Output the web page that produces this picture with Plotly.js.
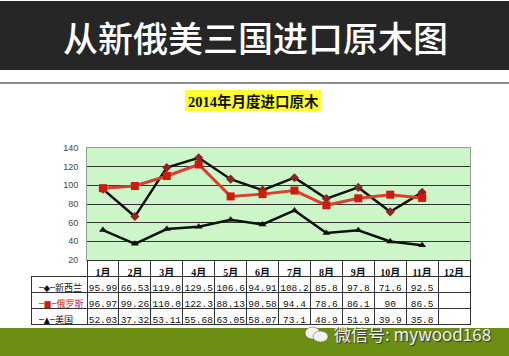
<!DOCTYPE html>
<html>
<head>
<meta charset="utf-8">
<script src="https://cdn.plot.ly/plotly-3.0.1.min.js"></script>
<style>html,body{margin:0;padding:0;background:#fff;}#chart{width:509px;height:356px;}</style>
</head>
<body>
<div id="chart"></div>
<script>
// ---- data ----
const months = ["1月","2月","3月","4月","5月","6月","7月","8月","9月","10月","11月","12月"];
const seriesNames = ["新西兰","俄罗斯","美国"];
const legendSymbols = ["─◆─","─■─","─▲─"];
const nzText = ["95.99","66.53","119.0","129.5","106.6","94.91","108.2","85.8","97.8","71.6","92.5"];
const ruText = ["96.97","99.26","110.0","122.3","88.13","90.58","94.4","78.6","86.1","90","86.5"];
const usText = ["52.03","37.32","53.11","55.68","63.05","58.07","73.1","48.9","51.9","39.9","35.8"];
const yTicks = [20,40,60,80,100,120,140];

const nz = nzText.map(Number), ru = ruText.map(Number), us = usText.map(Number);
const W = 509, H = 356;
const px = v => v / W, py = v => 1 - v / H;

const plotL = 87, plotR = 470, plotT = 148, plotB = 260, tableB = 328, tableL = 31;

const lineTraces = [
  {name: seriesNames[0], x: months.slice(0, nz.length), y: nz, type: "scatter", mode: "lines+markers",
   line: {color: "#111", width: 2.5}, marker: {symbol: "diamond", size: 7, color: "#8b2323"}},
  {name: seriesNames[1], x: months.slice(0, ru.length), y: ru, type: "scatter", mode: "lines+markers",
   line: {color: "#d8402f", width: 3}, marker: {symbol: "square", size: 8, color: "#d01a10"}},
  {name: seriesNames[2], x: months.slice(0, us.length), y: us, type: "scatter", mode: "lines+markers",
   line: {color: "#111", width: 2.5}, marker: {symbol: "triangle-up", size: 7, color: "#111"}}
];

const legendLabels = seriesNames.map((n, i) => legendSymbols[i] + n);
const cellCols = [legendLabels];
months.forEach((m, i) => cellCols.push([nzText[i] || "", ruText[i] || "", usText[i] || ""]));

const colFonts = ["DejaVu Sans Condensed, Noto Sans CJK SC"].concat(months.map(() => "Liberation Mono"));
const colSizes = [9].concat(months.map(() => 9.5));
const colColors = [["#111", "#c81e14", "#111"]].concat(months.map(() => "#111"));
const colAlign = ["left"].concat(months.map(() => "center"));
const headerLine = ["rgba(0,0,0,0)"].concat(months.map(() => "#333"));
const headerFill = ["rgba(0,0,0,0)"].concat(months.map(() => "#fff"));
const firstW = plotL - tableL;

const table = {
  type: "table",
  domain: {x: [px(tableL), px(plotR)], y: [py(tableB), py(plotB)]},
  columnwidth: [firstW].concat(months.map(() => (plotR - plotL) / months.length)),
  header: {
    values: [""].concat(months),
    height: 16,
    align: "center",
    fill: {color: headerFill},
    line: {color: headerLine, width: 1},
    font: {family: "Liberation Serif, Noto Sans CJK SC", size: 10, color: "#111", weight: "bold"}
  },
  cells: {
    values: cellCols,
    height: 16,
    align: colAlign,
    fill: {color: "#fff"},
    line: {color: "#333", width: 1},
    font: {family: colFonts, size: colSizes, color: colColors}
  }
};

const layout = {
  width: W, height: H,
  margin: {l: 0, r: 0, t: 0, b: 0},
  paper_bgcolor: "#fff",
  plot_bgcolor: "#ccf5c8",
  showlegend: false,
  xaxis: {domain: [px(plotL), px(plotR)], type: "category", categoryarray: months, range: [-0.5, 11.5],
          showticklabels: false, showgrid: false, zeroline: false, showline: true, mirror: true,
          linecolor: "#999", linewidth: 1, fixedrange: true},
  yaxis: {domain: [py(plotB), py(plotT)], range: [20, 140], tickvals: yTicks, showgrid: true,
          gridcolor: "#333", gridwidth: 1, zeroline: false, showline: true, mirror: true,
          linecolor: "#999", linewidth: 1, ticks: "", ticklabelstandoff: 6,
          tickfont: {family: "Liberation Sans", size: 9, color: "#444"}, fixedrange: true},
  shapes: [
    {type: "rect", xref: "paper", yref: "paper", x0: 0, x1: 1, y0: py(70), y1: py(1), fillcolor: "#262626", line: {width: 0}, layer: "below"},
    {type: "line", xref: "paper", yref: "paper", x0: 0, x1: 1, y0: py(83), y1: py(83), line: {color: "#666", width: 1.5}},
    {type: "rect", xref: "paper", yref: "paper", x0: px(185), x1: px(321), y0: py(111), y1: py(90), fillcolor: "#ffff33", line: {width: 0}, layer: "below"},
    {type: "rect", xref: "paper", yref: "paper", x0: 0, x1: 1, y0: 0, y1: py(tableB), fillcolor: "#6c8e12", line: {width: 0}},
    {type: "circle", xref: "paper", yref: "paper", x0: px(305), x1: px(320), y0: py(339), y1: py(327), fillcolor: "#f2f2f2", line: {color: "#555", width: 0.5}},
    {type: "circle", xref: "paper", yref: "paper", x0: px(313), x1: px(328), y0: py(342), y1: py(331), fillcolor: "#f2f2f2", line: {color: "#555", width: 0.5}}
  ],
  annotations: [
    {text: "从新俄美三国进口原木图", xref: "paper", yref: "paper", x: px(255), y: py(37), showarrow: false,
     xanchor: "center", yanchor: "middle", font: {family: "Noto Sans CJK SC", size: 35, color: "#fff", weight: 500}},
    {text: "<b>2014年月度进口原木</b>", xref: "paper", yref: "paper", x: px(253), y: py(101), showarrow: false,
     xanchor: "center", yanchor: "middle", font: {family: "Liberation Serif, Noto Sans CJK SC", size: 14.5, color: "#111"}},
    {text: "微信号: mywood168", xref: "paper", yref: "paper", x: px(332), y: py(333), showarrow: false,
     xanchor: "left", yanchor: "middle", font: {family: "Noto Sans CJK SC", size: 17, color: "#eeeeee", shadow: "1px 1px 1px #333"}}
  ]
};

Plotly.newPlot("chart", lineTraces.concat([table]), layout, {staticPlot: true, displayModeBar: false});
</script>
</body>
</html>
